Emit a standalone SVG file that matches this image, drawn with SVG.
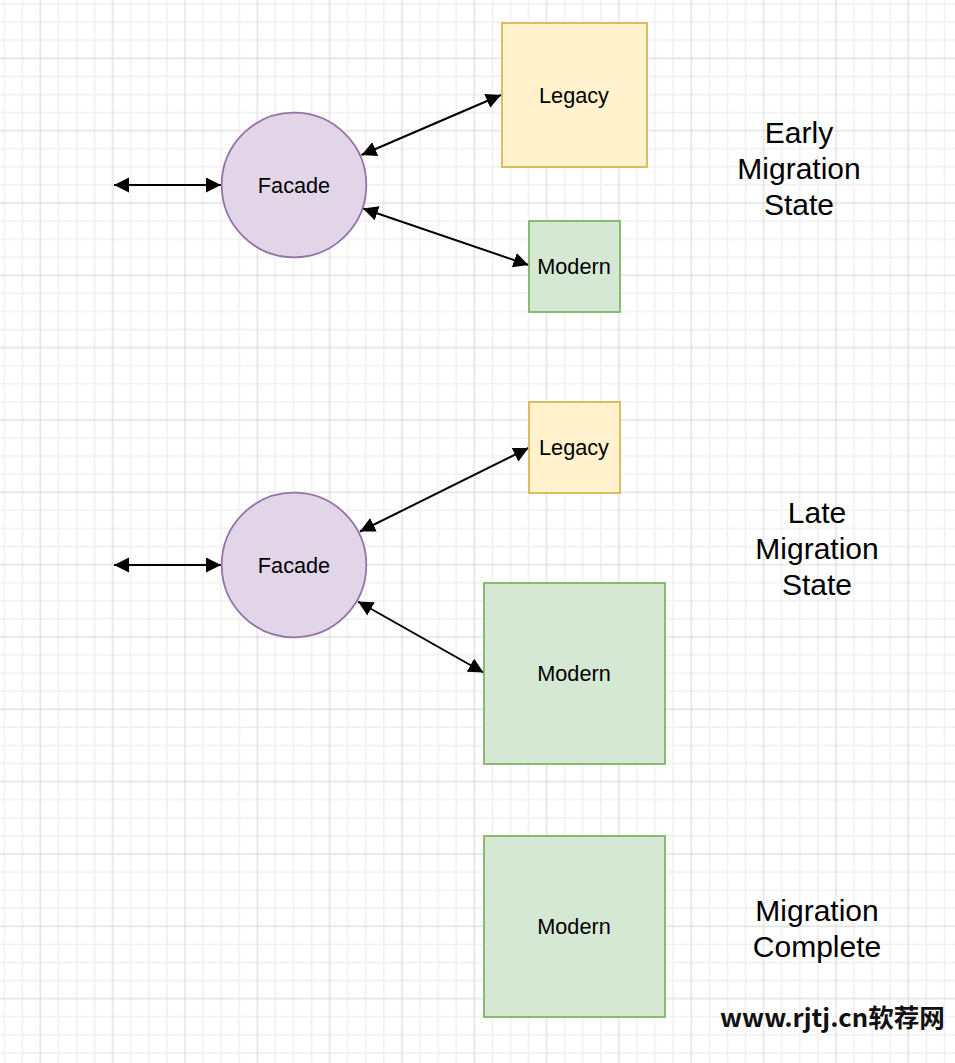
<svg xmlns="http://www.w3.org/2000/svg" width="955" height="1063" viewBox="0 0 955 1063">
<style>
.lbl{font-family:"Liberation Sans",Arial,Helvetica,sans-serif;font-size:21.7px;fill:#000;text-anchor:middle}
.state{font-family:"Liberation Sans",Arial,Helvetica,sans-serif;font-size:30px;fill:#000;text-anchor:middle}
.facade{fill:#e1d5e7;stroke:#9673a6;stroke-width:1.8}
.legacy{fill:#fff2cc;stroke:#d6b656;stroke-width:1.8}
.modern{fill:#d5e8d4;stroke:#82b366;stroke-width:1.8}
.edge{stroke:#000;stroke-width:2;fill:none;marker-start:url(#arr);marker-end:url(#arr)}
.wm{font-family:"Noto Sans CJK SC","Noto Sans",sans-serif;font-size:25px;font-weight:bold;fill:#111}
</style>
<defs>
<pattern id="grid" patternUnits="userSpaceOnUse" x="31.26" y="49.26" width="72.33" height="72.33">
<rect x="0" y="26.37" width="72.33" height="1.5" fill="#f0f0f0"/>
<rect x="0" y="44.46" width="72.33" height="1.5" fill="#f0f0f0"/>
<rect x="0" y="62.54" width="72.33" height="1.5" fill="#f0f0f0"/>
<rect x="26.37" y="0" width="1.5" height="72.33" fill="#f0f0f0"/>
<rect x="44.46" y="0" width="1.5" height="72.33" fill="#f0f0f0"/>
<rect x="62.54" y="0" width="1.5" height="72.33" fill="#f0f0f0"/>
<rect x="0" y="8.54" width="72.33" height="1" fill="#d6d6d6"/>
<rect x="8.54" y="0" width="1" height="72.33" fill="#d6d6d6"/>
</pattern>
<marker id="arr" markerUnits="userSpaceOnUse" markerWidth="16" markerHeight="16" refX="15" refY="7.5" orient="auto-start-reverse" viewBox="0 0 16 16">
<path d="M0,0 L15,7.5 L0,15 Z" fill="#000"/>
</marker>
</defs>
<rect width="955" height="1063" fill="#fff"/>
<rect width="955" height="1063" fill="url(#grid)"/>
<g id="connectors">
<line class="edge" x1="114" y1="185" x2="221" y2="185"/>
<line class="edge" x1="501" y1="95" x2="361.5" y2="155"/>
<line class="edge" x1="363" y1="208.5" x2="528.5" y2="265"/>
<line class="edge" x1="114" y1="565" x2="221" y2="565"/>
<line class="edge" x1="528.5" y1="448" x2="360" y2="531.5"/>
<line class="edge" x1="358" y1="601.5" x2="483.5" y2="672.5"/>
</g>
<g id="facade1"><circle class="facade" cx="294" cy="185" r="72.3"/><text class="lbl" x="294" y="193">Facade</text></g>
<g id="legacy1"><rect class="legacy" x="502" y="23" width="145" height="144"/><text class="lbl" x="574" y="103">Legacy</text></g>
<g id="modern1"><rect class="modern" x="529" y="221" width="91" height="91"/><text class="lbl" x="574" y="274">Modern</text></g>
<g id="label-early"><text class="state" x="799"><tspan x="799" y="143">Early</tspan><tspan x="799" y="179">Migration</tspan><tspan x="799" y="215">State</tspan></text></g>
<g id="facade2"><circle class="facade" cx="294" cy="565" r="72.3"/><text class="lbl" x="294" y="573">Facade</text></g>
<g id="legacy2"><rect class="legacy" x="529" y="402" width="91" height="91"/><text class="lbl" x="574" y="455">Legacy</text></g>
<g id="modern2"><rect class="modern" x="484" y="583" width="181" height="181"/><text class="lbl" x="574" y="681">Modern</text></g>
<g id="label-late"><text class="state" x="817"><tspan x="817" y="523">Late</tspan><tspan x="817" y="559">Migration</tspan><tspan x="817" y="595">State</tspan></text></g>
<g id="modern3"><rect class="modern" x="484" y="836" width="181" height="181"/><text class="lbl" x="574" y="934">Modern</text></g>
<g id="label-complete"><text class="state" x="817"><tspan x="817" y="921">Migration</tspan><tspan x="817" y="957">Complete</tspan></text></g>
<text class="wm" x="720" y="1027" textLength="225" lengthAdjust="spacingAndGlyphs">www.rjtj.cn软荐网</text>
</svg>
